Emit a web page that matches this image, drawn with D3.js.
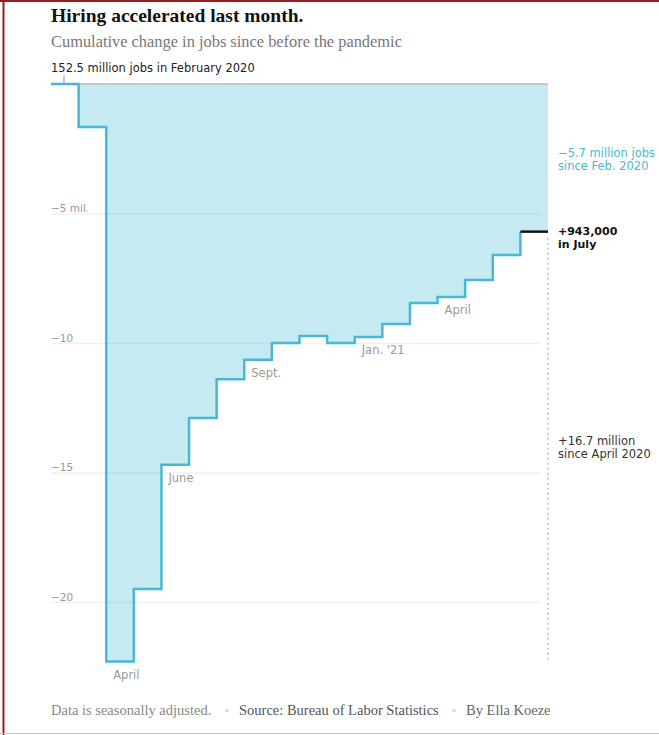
<!DOCTYPE html>
<html>
<head>
<meta charset="utf-8">
<script src="https://cdn.jsdelivr.net/npm/d3@7/dist/d3.min.js"></script>
<style>
  body { margin: 0; background: #fff; }
  .sans { font-family: "DejaVu Sans", Verdana, sans-serif; }
  .serif { font-family: "Liberation Serif", "Times New Roman", serif; }
</style>
</head>
<body>
<div id="chart"></div>
<script>
// months from Feb. 2020 to July 2021
var months = ["Feb. 2020", "March", "April", "May", "June", "July", "Aug.", "Sept.", "Oct.", "Nov.", "Dec.",
              "Jan. '21", "Feb.", "March", "April", "May", "June", "July"];
// cumulative change in jobs since Feb. 2020, millions
var jobsChange = [0, -1.66, -22.3, -19.5, -14.7, -12.9, -11.4, -10.65, -10.0, -9.73, -10.0,
                  -9.77, -9.27, -8.46, -8.22, -7.57, -6.6, -5.7];
// months that get a label under the step
var labelMonths = [2, 4, 7, 11, 14];
var yTicks = [-5, -10, -15, -20];
var yTickLabels = ["\u22125 mil.", "\u221210", "\u221215", "\u221220"];

var width = 659, height = 735;
var blue = "#48b8d4", fillBlue = "#c6eaf2";

var svg = d3.select("#chart").append("svg")
    .attr("width", width)
    .attr("height", height);

// frame round the picture
svg.append("line").attr("x1", 0).attr("x2", width).attr("y1", 1).attr("y2", 1)
    .style("stroke", "#9b1c1c").style("stroke-width", 2);
svg.append("line").attr("x1", 3.5).attr("x2", 3.5).attr("y1", 0).attr("y2", height)
    .style("stroke", "#9b1c1c").style("stroke-width", 2);
svg.append("line").attr("x1", 0).attr("x2", width).attr("y1", 733.5).attr("y2", 733.5)
    .style("stroke", "#e9b4b4").style("stroke-width", 1);

// headings
svg.append("text").attr("class", "serif").attr("x", 51).attr("y", 22)
    .style("font-size", "19.5px").style("font-weight", "bold").style("fill", "#121212")
    .text("Hiring accelerated last month.");
svg.append("text").attr("class", "serif").attr("x", 51).attr("y", 47)
    .style("font-size", "16.4px").style("fill", "#777")
    .text("Cumulative change in jobs since before the pandemic");
svg.append("text").attr("class", "sans").attr("x", 51).attr("y", 72)
    .style("font-size", "11.5px").style("fill", "#222")
    .text("152.5 million jobs in February 2020");

var x = d3.scaleLinear().domain([0, months.length]).range([51, 548]);
var y = d3.scaleLinear().domain([0, -20]).range([84, 602]);

var pts = jobsChange.map(function(v, i){ return {i: i, v: v}; });
var ptsEnd = pts.concat([{i: months.length, v: jobsChange[jobsChange.length - 1]}]);

// shaded gap to the Feb. 2020 level
svg.append("path")
    .datum(ptsEnd)
    .attr("d", d3.area().curve(d3.curveStepAfter)
        .x(function(d){ return x(d.i); })
        .y0(y(0))
        .y1(function(d){ return y(d.v); }))
    .style("fill", fillBlue);

// baseline at Feb. 2020
svg.append("line")
    .attr("x1", x(0)).attr("x2", x(months.length))
    .attr("y1", y(0)).attr("y2", y(0))
    .style("stroke", "#c8c8c8").style("stroke-width", 2);
svg.append("line")
    .attr("x1", 64).attr("x2", 64).attr("y1", 75).attr("y2", y(0))
    .style("stroke", "#999").style("stroke-width", 1);

// gridlines and labels
var yAxis = d3.axisRight(y)
    .tickValues(yTicks)
    .tickSize(489)
    .tickFormat(function(d, i){ return yTickLabels[i]; });
var gAxis = svg.append("g").attr("transform", "translate(51,0)").call(yAxis);
gAxis.select(".domain").remove();
gAxis.selectAll(".tick line")
    .style("stroke", "#000").style("stroke-opacity", 0.06).style("stroke-width", 1.5);
gAxis.selectAll(".tick text")
    .attr("x", 0).attr("dy", -2)
    .attr("class", "sans")
    .style("font-size", "10.5px").style("fill", "#999");

// dotted drop from July to the April low
var last = jobsChange.length - 1;
svg.append("line")
    .attr("x1", x(months.length)).attr("x2", x(months.length))
    .attr("y1", y(jobsChange[last]) + 6).attr("y2", y(d3.min(jobsChange)))
    .style("stroke", "#d0d0d0").style("stroke-width", 2).style("stroke-dasharray", "2,3");

// step line
svg.append("path")
    .datum(pts)
    .attr("d", d3.line().curve(d3.curveStepAfter)
        .x(function(d){ return x(d.i); })
        .y(function(d){ return y(d.v); }))
    .style("fill", "none")
    .style("stroke", blue)
    .style("stroke-width", 2.5);

// latest month in black
svg.append("line")
    .attr("x1", x(last)).attr("x2", x(months.length))
    .attr("y1", y(jobsChange[last])).attr("y2", y(jobsChange[last]))
    .style("stroke", "#111").style("stroke-width", 2.5);

// month labels
svg.selectAll(".month")
    .data(labelMonths)
    .enter().append("text")
    .attr("class", "sans month")
    .attr("x", function(i){ return x(i) + 7; })
    .attr("y", function(i){ return y(jobsChange[i]) + 17; })
    .style("font-size", "11.5px").style("fill", "#999")
    .text(function(i){ return months[i]; });

// annotations on the right
function note(lines, yPos, color, weight){
    var t = svg.append("text").attr("class", "sans")
        .attr("x", 558).attr("y", yPos)
        .style("font-size", weight == "bold" ? "11px" : "11.5px")
        .style("fill", color).style("font-weight", weight);
    lines.forEach(function(s, k){
        t.append("tspan").attr("x", 558).attr("dy", k ? 12.5 : 0).text(s);
    });
}
note(["\u22125.7 million jobs", "since Feb. 2020"], 157, blue, "normal");
note(["+943,000", "in July"], 235, "#111", "bold");
note(["+16.7 million", "since April 2020"], 445, "#333", "normal");

// footer
var footParts = [
    {x: 51, text: "Data is seasonally adjusted.", color: "#888"},
    {x: 239, text: "Source: Bureau of Labor Statistics", color: "#555"},
    {x: 466, text: "By Ella Koeze", color: "#666"}
];
svg.selectAll(".foot")
    .data(footParts)
    .enter().append("text")
    .attr("class", "serif foot")
    .attr("x", function(d){ return d.x; })
    .attr("y", 715)
    .style("font-size", "14.5px")
    .style("fill", function(d){ return d.color; })
    .text(function(d){ return d.text; });
svg.selectAll(".dot")
    .data([227, 454])
    .enter().append("rect")
    .attr("x", function(d){ return d - 1.5; })
    .attr("y", 709)
    .attr("width", 3).attr("height", 3)
    .style("fill", "#d6d6d6");
</script>
</body>
</html>
